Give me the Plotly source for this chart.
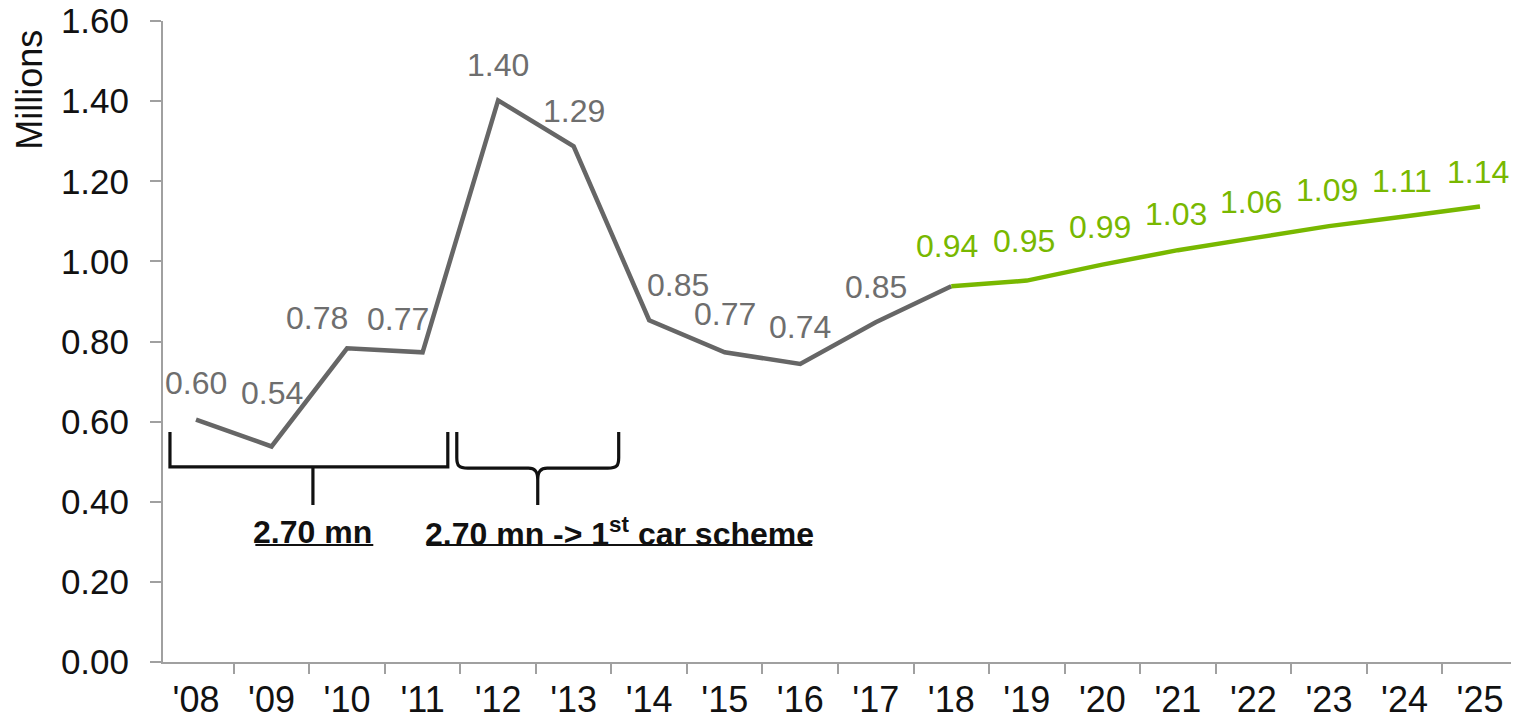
import plotly.graph_objects as go

years = ["'08", "'09", "'10", "'11", "'12", "'13", "'14", "'15", "'16", "'17",
         "'18", "'19", "'20", "'21", "'22", "'23", "'24", "'25"]
actual_years = years[:11]
actual_values = [0.605, 0.538, 0.783, 0.773, 1.402, 1.287, 0.853, 0.773, 0.744, 0.848, 0.938]
forecast_years = years[10:]
forecast_values = [0.938, 0.952, 0.992, 1.028, 1.058, 1.088, 1.112, 1.137]
actual_labels = ["0.60", "0.54", "0.78", "0.77", "1.40", "1.29", "0.85", "0.77", "0.74", "0.85"]
forecast_labels = ["0.94", "0.95", "0.99", "1.03", "1.06", "1.09", "1.11", "1.14"]

GRAY = "#666666"
LABEL_GRAY = "#6e6e6e"
GREEN = "#78b800"
AXIS = "#a0a0a0"
INK = "#111111"
FONT = "Liberation Sans, Arial, sans-serif"

# label offsets (style only)
act_dx = [0, 0, -30, -25, 0, 0, 29, 0, 0, 0]
act_dy = [37, 53, 30, 33, 35, 35, 35, 38, 37, 35]
fc_dx = [-4, -3, -2, -2, -2, -2, -2, -2]
fc_dy = [40, 40, 38, 36, 36, 36, 36, 34]

fig = go.Figure()
fig.add_trace(go.Scatter(x=actual_years, y=actual_values, mode="lines",
                         line=dict(color=GRAY, width=4.5), hoverinfo="skip", showlegend=False))
fig.add_trace(go.Scatter(x=forecast_years, y=forecast_values, mode="lines",
                         line=dict(color=GREEN, width=4.5), hoverinfo="skip", showlegend=False))

annotations = []
for i, lab in enumerate(actual_labels):
    annotations.append(dict(x=actual_years[i], y=actual_values[i], xref="x", yref="y",
                            text=lab, showarrow=False, xshift=act_dx[i], yshift=act_dy[i],
                            xanchor="center", yanchor="middle",
                            font=dict(family=FONT, size=32, color=LABEL_GRAY)))
for i, lab in enumerate(forecast_labels):
    annotations.append(dict(x=forecast_years[i], y=forecast_values[i], xref="x", yref="y",
                            text=lab, showarrow=False, xshift=fc_dx[i], yshift=fc_dy[i],
                            xanchor="center", yanchor="middle",
                            font=dict(family=FONT, size=32, color=GREEN)))

n = len(years)
def px(idx):
    return (idx + 0.5) / n

# bracket 1 (square) and bracket 2 (curly)
b1 = (f"M {px(-0.407)},0.574 L {px(-0.407)},0.487 L {px(3.303)},0.487 L {px(3.303)},0.574 "
      f"M {px(1.502)},0.487 L {px(1.502)},0.392")
b2 = (f"M {px(3.423)},0.574 L {px(3.423)},0.510 "
      f"C {px(3.423)},0.490 {px(3.45)},0.484 {px(3.57)},0.484 "
      f"L {px(4.38)},0.484 C {px(4.47)},0.484 {px(4.504)},0.475 {px(4.504)},0.455 "
      f"L {px(4.504)},0.392 M {px(4.504)},0.455 "
      f"C {px(4.504)},0.475 {px(4.54)},0.484 {px(4.63)},0.484 "
      f"L {px(5.44)},0.484 C {px(5.56)},0.484 {px(5.585)},0.490 {px(5.585)},0.510 "
      f"L {px(5.585)},0.574")
shapes = [
    dict(type="path", path=b1, xref="paper", yref="y", line=dict(color=INK, width=3.2)),
    dict(type="path", path=b2, xref="paper", yref="y", line=dict(color=INK, width=3.2)),
    # underlines of the two bracket captions
    dict(type="line", xref="paper", yref="y", x0=px(0.733), x1=px(2.308), y0=0.292, y1=0.292,
         line=dict(color=INK, width=2)),
    dict(type="line", xref="paper", yref="y", x0=px(3.02), x1=px(8.17), y0=0.292, y1=0.292,
         line=dict(color=INK, width=2)),
]

annotations.append(dict(x=px(1.5), y=0.324, xref="paper", yref="y",
                        text="<b>2.70 mn</b>", showarrow=False,
                        xanchor="center", yanchor="middle",
                        font=dict(family=FONT, size=32, color=INK)))
annotations.append(dict(x=px(5.6), y=0.324, xref="paper", yref="y",
                        text="<b>2.70 mn -> 1<sup>st</sup> car scheme</b>", showarrow=False,
                        xanchor="center", yanchor="middle",
                        font=dict(family=FONT, size=32, color=INK)))
annotations.append(dict(x=-0.099, y=0.892, xref="paper", yref="paper", text="Millions",
                        textangle=-90, showarrow=False, xanchor="center", yanchor="middle",
                        font=dict(family=FONT, size=36, color=INK)))

fig.update_layout(
    width=1521, height=724,
    margin=dict(l=163, r=10, t=21, b=62),
    paper_bgcolor="white", plot_bgcolor="white",
    shapes=shapes, annotations=annotations,
    font=dict(family=FONT, color=INK),
)
fig.update_xaxes(type="category", categoryorder="array", categoryarray=years,
                 tickson="boundaries", ticks="outside", ticklen=10, tickwidth=2,
                 tickcolor=AXIS, showline=True, linecolor=AXIS, linewidth=2,
                 showgrid=False, zeroline=False, automargin=False, ticklabelstandoff=5,
                 tickfont=dict(family=FONT, size=36, color=INK))
fig.update_yaxes(range=[0, 1.6], dtick=0.2, tickformat=".2f", ticks="outside",
                 ticklen=11, tickwidth=2, tickcolor=AXIS, showline=True, linecolor=AXIS,
                 linewidth=2, showgrid=False, zeroline=False, ticklabelstandoff=14,
                 automargin=False,
                 tickfont=dict(family=FONT, size=35, color=INK))

fig.write_html("out.html")
